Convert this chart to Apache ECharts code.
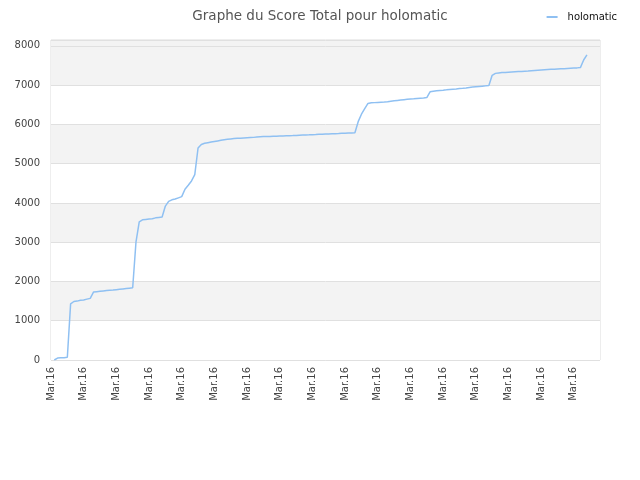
<!DOCTYPE html>
<html lang="fr">
	<head>
		<meta charset="utf-8" />
		<title>Graphe du Score Total pour holomatic</title>
		<style>
			html, body { margin: 0; padding: 0; background: #fff; }
			#scoreChart { width: 640px; height: 480px; }
		</style>
	</head>
	<body>
		<div id="scoreChart"></div>

		<script type="text/javascript" src="https://cdn.jsdelivr.net/npm/echarts@6/dist/echarts.min.js"></script>
		<script type="text/javascript">
			// titre et légende
			var chartTitle = 'Graphe du Score Total pour holomatic';
			var playerName = 'holomatic';

			// graduations
			var dayLabel = 'Mar.16';
			var pointCount = 169;
			var yTicks = [0, 1000, 2000, 3000, 4000, 5000, 6000, 7000, 8000];

			// score total relevé point par point (null = pas de donnée)
			var scores = [
				null, 0, 50, 60, 60, 70, 1430, 1490, 1500, 1520,
				1530, 1550, 1570, 1730, 1740, 1750, 1760, 1770, 1775, 1780,
				1790, 1800, 1810, 1820, 1830, 1840, 3000, 3520, 3570, 3580,
				3590, 3600, 3620, 3630, 3640, 3920, 4040, 4080, 4100, 4130,
				4160, 4350, 4450, 4560, 4720, 5400, 5490, 5520, 5535, 5550,
				5565, 5580, 5595, 5610, 5620, 5630, 5640, 5645, 5650, 5655,
				5660, 5665, 5670, 5680, 5685, 5690, 5692, 5695, 5698, 5700,
				5703, 5706, 5710, 5713, 5716, 5720, 5724, 5728, 5732, 5735,
				5740, 5743, 5747, 5750, 5754, 5757, 5761, 5765, 5768, 5772,
				5776, 5780, 5784, 5790, 6070, 6260, 6400, 6535, 6550, 6555,
				6560, 6565, 6570, 6578, 6590, 6600, 6610, 6620, 6630, 6638,
				6645, 6652, 6660, 6668, 6675, 6683, 6830, 6845, 6855, 6865,
				6872, 6880, 6890, 6898, 6905, 6915, 6922, 6930, 6940, 6950,
				6960, 6968, 6975, 6982, 6990, 7250, 7300, 7310, 7320, 7325,
				7330, 7335, 7340, 7345, 7350, 7355, 7360, 7366, 7372, 7378,
				7384, 7390, 7396, 7402, 7407, 7412, 7416, 7420, 7425, 7430,
				7435, 7440, 7447, 7640, 7770, null, null, null, null
			];

			var categories = [];
			for (var i = 0; i < pointCount; i++) {
				categories.push(dayLabel);
			}

			var chart = echarts.init(document.getElementById('scoreChart'));

			var option = {
				animation: false,
				textStyle: { fontFamily: 'DejaVu Sans' },
				title: {
					text: chartTitle,
					left: 'center',
					top: 4,
					textStyle: { fontSize: 13.5, fontWeight: 'normal', color: '#555', fontFamily: 'DejaVu Sans' }
				},
				legend: {
					data: [playerName],
					right: 18,
					top: 7,
					itemWidth: 11,
					itemHeight: 2,
					itemGap: 8,
					icon: 'rect',
					textStyle: { fontSize: 10, color: '#111', fontFamily: 'DejaVu Sans', padding: [0, 0, 0, 5] }
				},
				grid: {
					left: 51,
					right: 40,
					top: 40,
					bottom: 120,
					show: true,
					borderColor: '#dcdcdc',
					borderWidth: 1,
					containLabel: false
				},
				xAxis: {
					type: 'category',
					data: categories,
					boundaryGap: false,
					axisLine: { show: false },
					axisTick: { show: false },
					axisLabel: {
						interval: 9,
						rotate: 90,
						fontSize: 10,
						color: '#444',
						margin: 7
					},
					splitLine: { show: false }
				},
				yAxis: {
					type: 'value',
					min: yTicks[0],
					max: 8150,
					interval: 1000,
					axisLine: { show: false },
					axisTick: { show: false },
					axisLabel: {
						fontSize: 10,
						color: '#444',
						margin: 11,
						formatter: function (value) {
							return String(value);
						}
					},
					splitLine: { show: true, lineStyle: { color: '#e0e0e0', width: 1 } },
					splitArea: {
						show: true,
						areaStyle: {
							color: ['#ffffff', '#f3f3f3', '#ffffff', '#f3f3f3', '#ffffff',
								'#f3f3f3', '#ffffff', '#f3f3f3', '#f3f3f3']
						}
					}
				},
				series: [
					{
						name: playerName,
						type: 'line',
						data: scores,
						showSymbol: false,
						symbol: 'none',
						connectNulls: false,
						lineStyle: { color: '#8fc0f2', width: 1.5 },
						itemStyle: { color: '#8fc0f2' }
					}
				]
			};

			chart.setOption(option);
		</script>
	</body>
</html>
